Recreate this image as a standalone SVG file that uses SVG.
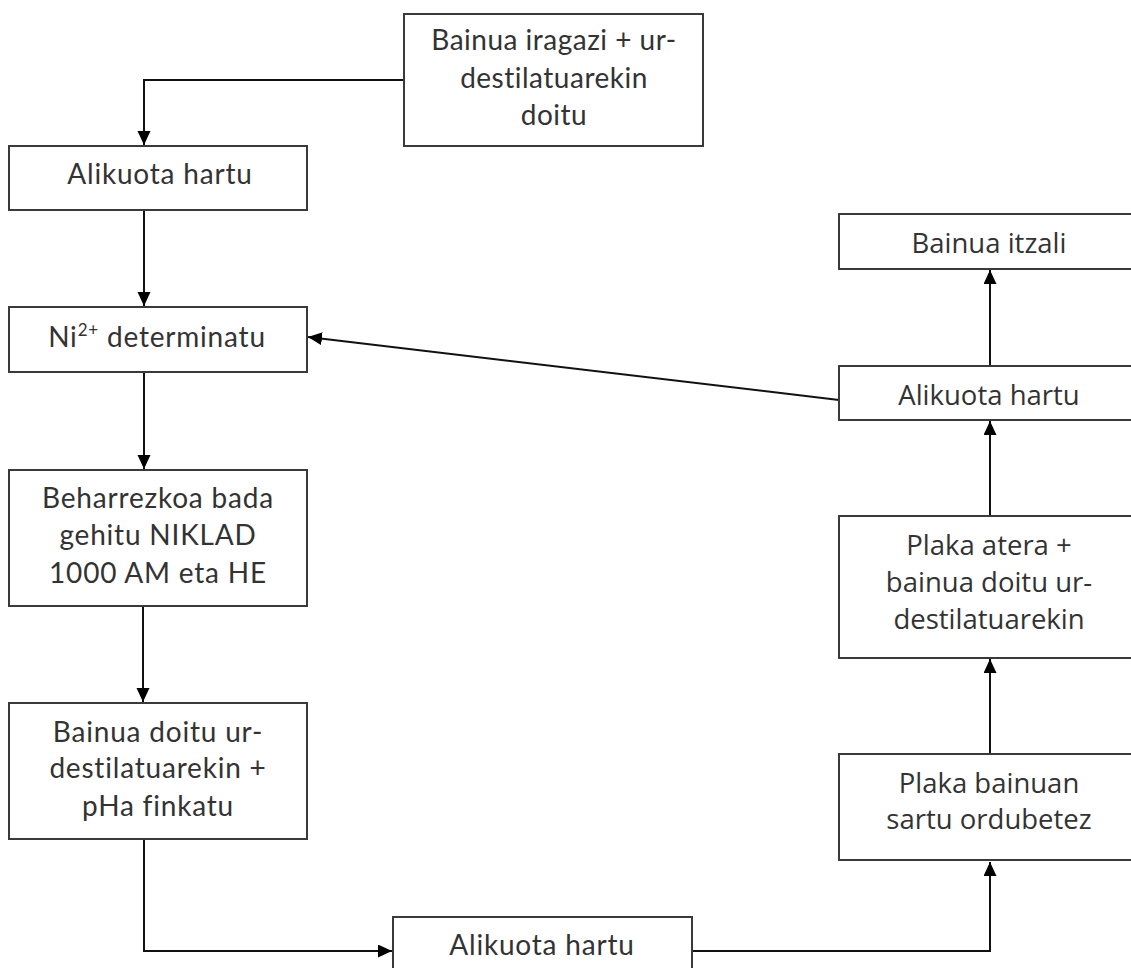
<svg xmlns="http://www.w3.org/2000/svg" width="1131" height="968" viewBox="0 0 1131 968">
<style>
.box{fill:#fff;stroke:#3a3a3a;stroke-width:2}
.l{font-family:Lato,"Open Sans",sans-serif;font-size:28px;letter-spacing:0.8px;fill:#333;text-anchor:middle;font-variant-ligatures:none}
.t{letter-spacing:0.5px}
.r{font-family:"Open Sans",Lato,sans-serif;font-size:27.5px;fill:#333;text-anchor:middle;font-variant-ligatures:none}
.c{fill:none;stroke:#111;stroke-width:2}
</style>
<defs>
<marker id="ah" markerUnits="userSpaceOnUse" markerWidth="15" markerHeight="14" refX="14" refY="6.5" orient="auto">
<path d="M0,0 L14,6.5 L0,13 z" fill="#000"/>
</marker>
</defs>
<rect width="1131" height="968" fill="#fff"/>
<g id="connectors">
<path class="c" d="M404,80 H144 V145" marker-end="url(#ah)"/>
<path class="c" d="M144,210 V306" marker-end="url(#ah)"/>
<path class="c" d="M144,372 V469" marker-end="url(#ah)"/>
<path class="c" d="M143,606 V702" marker-end="url(#ah)"/>
<path class="c" d="M144,839 V951 H392" marker-end="url(#ah)"/>
<path class="c" d="M692,951 H990 V862" marker-end="url(#ah)"/>
<path class="c" d="M990,754 V659" marker-end="url(#ah)"/>
<path class="c" d="M990,516 V421" marker-end="url(#ah)"/>
<path class="c" d="M990,366 V270" marker-end="url(#ah)"/>
<path class="c" d="M839,400 L308,337" marker-end="url(#ah)"/>
</g>
<g id="n1">
<rect class="box" x="404" y="14" width="299" height="132"/>
<text class="l t" x="554" y="50">Bainua iragazi + ur-</text>
<text class="l t" x="554" y="88">destilatuarekin</text>
<text class="l t" x="554" y="125">doitu</text>
</g>
<g id="n2">
<rect class="box" x="9" y="146" width="298" height="64"/>
<text class="l" x="160" y="184">Alikuota hartu</text>
</g>
<g id="n3">
<rect class="box" x="9" y="307" width="298" height="65"/>
<text class="l" x="157" y="347">Ni<tspan font-size="17" dy="-11">2+</tspan><tspan dy="11"> determinatu</tspan></text>
</g>
<g id="n4">
<rect class="box" x="9" y="470" width="298" height="136"/>
<text class="l" x="158" y="508">Beharrezkoa bada</text>
<text class="l" x="158" y="545">gehitu NIKLAD</text>
<text class="l" x="158" y="583">1000 AM eta HE</text>
</g>
<g id="n5">
<rect class="box" x="9" y="703" width="298" height="136"/>
<text class="l" x="158" y="742">Bainua doitu ur-</text>
<text class="l" x="158" y="778">destilatuarekin +</text>
<text class="l" x="158" y="816">pHa finkatu</text>
</g>
<g id="n6">
<rect class="box" x="393" y="917" width="299" height="70"/>
<text class="l" x="542" y="955">Alikuota hartu</text>
</g>
<g id="n7">
<rect class="box" x="839" y="754" width="299" height="106"/>
<text class="r" x="989" y="793">Plaka bainuan</text>
<text class="r" x="989" y="829">sartu ordubetez</text>
</g>
<g id="n8">
<rect class="box" x="839" y="516" width="299" height="142"/>
<text class="r" x="989" y="555">Plaka atera +</text>
<text class="r" x="989" y="592">bainua doitu ur-</text>
<text class="r" x="989" y="629">destilatuarekin</text>
</g>
<g id="n9">
<rect class="box" x="839" y="366" width="299" height="54"/>
<text class="r" x="989" y="405">Alikuota hartu</text>
</g>
<g id="n10">
<rect class="box" x="839" y="214" width="299" height="55"/>
<text class="r" x="989" y="253">Bainua itzali</text>
</g>
</svg>
